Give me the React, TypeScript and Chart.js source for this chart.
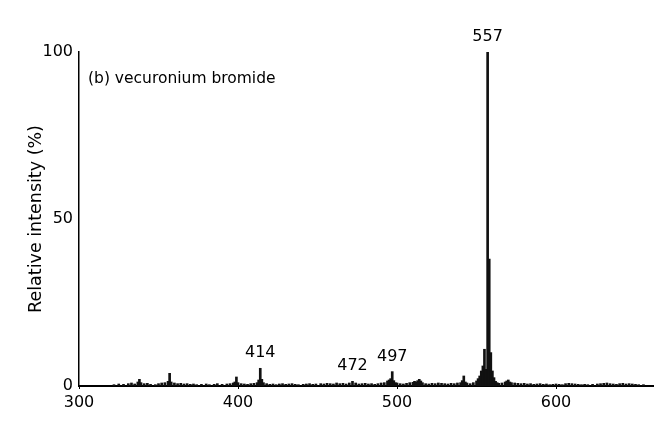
import { useEffect, useRef } from "react";
import { Chart, registerables } from "chart.js";

Chart.register(...registerables);

// m/z values of the spectrum lines
const mzValues = [
  322, 325, 328, 331, 333, 335, 337, 338, 339, 341, 343, 345, 348, 350, 352, 354, 356, 357, 358, 360,
  362, 364, 366, 368, 370, 372, 374, 377, 380, 382, 385, 387, 390, 393, 395, 397, 398, 399, 400, 402,
  404, 406, 408, 410, 412, 413, 414, 415, 416, 418, 420, 422, 424, 426, 428, 430, 432, 434, 436, 438,
  441, 443, 445, 447, 449, 452, 454, 456, 458, 460, 462, 464, 466, 468, 470, 472, 474, 476, 478, 480,
  482, 484, 486, 488, 490, 492, 494, 495, 496, 497, 498, 499, 500, 502, 504, 506, 508, 510, 511, 512,
  513, 514, 515, 516, 518, 520, 522, 524, 526, 528, 530, 532, 534, 536, 538, 540, 541, 542, 543, 544,
  546, 548, 550, 551, 552, 553, 554, 555, 556, 557, 558, 559, 560, 561, 562, 563, 564, 566, 568, 569,
  570, 571, 572, 574, 576, 578, 580, 582, 584, 586, 588, 590, 592, 594, 596, 598, 600, 602, 604, 606,
  608, 610, 612, 614, 616, 618, 620, 623, 626, 628, 630, 632, 634, 636, 638, 640, 642, 644, 646, 648,
  650, 652, 655,
];

// relative intensities (%) matching mzValues
const intensities = [
  0.4, 0.6, 0.5, 0.7, 0.9, 0.6, 1.2, 2.0, 1.0, 0.7, 0.8, 0.5, 0.4, 0.7, 0.9, 1.0, 1.4, 3.8, 1.2, 0.9,
  0.7, 0.8, 0.6, 0.7, 0.5, 0.6, 0.4, 0.5, 0.6, 0.4, 0.5, 0.7, 0.5, 0.6, 0.7, 0.9, 1.2, 2.7, 1.0, 0.7,
  0.6, 0.5, 0.7, 0.8, 1.0, 1.8, 5.3, 2.0, 1.0, 0.7, 0.5, 0.6, 0.4, 0.6, 0.7, 0.5, 0.6, 0.7, 0.5, 0.4,
  0.5, 0.6, 0.7, 0.5, 0.6, 0.7, 0.6, 0.8, 0.7, 0.6, 0.9, 0.7, 0.8, 0.6, 0.9, 1.4, 0.9, 0.6, 0.7, 0.8,
  0.6, 0.7, 0.5, 0.7, 0.9, 1.0, 1.5, 1.8, 2.2, 4.3, 1.6, 1.0, 0.9, 0.7, 0.6, 0.8, 1.0, 1.1, 1.4, 1.2,
  1.6, 2.0, 1.5, 1.0, 0.7, 0.6, 0.8, 0.7, 0.9, 0.8, 0.7, 0.6, 0.8, 0.7, 0.9, 1.0, 1.6, 3.0, 1.2, 0.9,
  0.7, 1.0, 1.5, 2.2, 3.0, 4.5, 6.0, 11.0, 5.0, 100, 38.0, 10.0, 4.5, 2.5, 1.4, 1.0, 0.8, 0.9, 1.2, 1.5,
  1.8, 1.2, 1.0, 0.9, 0.8, 0.7, 0.8, 0.6, 0.7, 0.5, 0.6, 0.7, 0.5, 0.6, 0.4, 0.5, 0.6, 0.5, 0.4, 0.7,
  0.8, 0.7, 0.6, 0.5, 0.4, 0.5, 0.4, 0.5, 0.6, 0.7, 0.8, 0.9, 0.7, 0.6, 0.5, 0.7, 0.8, 0.6, 0.7, 0.6,
  0.5, 0.4, 0.4,
];

const xTickValues = [300, 400, 500, 600];
const yTickValues = [0, 50, 100];
const peakLabelMz = [414, 472, 497, 557];
const peakLabelText = ["414", "472", "497", "557"];
const chartTitle = "(b) vecuronium bromide";
const yAxisTitle = "Relative intensity (%)";

const FONT = "'DejaVu Sans', 'Liberation Sans', sans-serif";

const annotatePlugin = {
  id: "annotate",
  afterDatasetsDraw(chart: any) {
    const { ctx, chartArea, scales } = chart;
    const x = scales.x;
    const y = scales.y;
    ctx.save();
    ctx.fillStyle = "#000";
    ctx.font = `16px ${FONT}`;
    ctx.textAlign = "center";
    ctx.textBaseline = "middle";
    peakLabelMz.forEach((mz, i) => {
      const idx = mzValues.indexOf(mz);
      const v = idx >= 0 ? intensities[idx] : 0;
      ctx.fillText(peakLabelText[i], x.getPixelForValue(mz), y.getPixelForValue(v) - 15);
    });
    ctx.font = `15.5px ${FONT}`;
    ctx.textAlign = "left";
    ctx.fillText(chartTitle, chartArea.left + 9, chartArea.top + 27);
    ctx.restore();
  },
};

export default function App() {
  const canvasRef = useRef<HTMLCanvasElement | null>(null);

  useEffect(() => {
    if (!canvasRef.current) return;
    const chart = new Chart(canvasRef.current, {
      type: "bar",
      data: {
        datasets: [
          {
            data: mzValues.map((m, i) => ({ x: m, y: intensities[i] })),
            backgroundColor: "#111",
            borderWidth: 0,
            barThickness: 2,
            grouped: false,
          } as any,
        ],
      },
      options: {
        animation: false,
        responsive: false,
        maintainAspectRatio: false,
        layout: { padding: { top: 52, right: 17, left: 0, bottom: 0 } },
        plugins: {
          legend: { display: false },
          tooltip: { enabled: false },
        },
        scales: {
          x: {
            type: "linear",
            min: 300,
            max: 661,
            offset: false,
            grid: {
              display: true,
              offset: false,
              drawOnChartArea: false,
              drawTicks: true,
              tickLength: 3,
              color: "#000",
              lineWidth: 1,
            },
            border: { display: true, color: "#000", width: 2 },
            ticks: {
              color: "#000",
              font: { family: FONT, size: 16 },
              padding: 4,
              maxRotation: 0,
              autoSkip: false,
            },
            afterBuildTicks: (s: any) => {
              s.ticks = xTickValues.map((v) => ({ value: v }));
            },
            afterFit: (s: any) => {
              s.height = 46;
            },
          },
          y: {
            type: "linear",
            min: 0,
            max: 100,
            grid: { display: false, drawTicks: false },
            border: { display: true, color: "#000", width: 1.5 },
            ticks: {
              color: "#000",
              font: { family: FONT, size: 16 },
              padding: 6,
            },
            afterBuildTicks: (s: any) => {
              s.ticks = yTickValues.map((v) => ({ value: v }));
            },
            title: {
              display: true,
              text: yAxisTitle,
              color: "#000",
              font: { family: FONT, size: 17.5 },
              padding: { top: 26, bottom: 0 },
            },
            afterFit: (s: any) => {
              s.width = 79;
            },
          },
        },
      } as any,
      plugins: [annotatePlugin],
    });
    return () => chart.destroy();
  }, []);

  return (
    <div style={{ position: "absolute", left: 0, top: 0, width: 670, height: 432, background: "#fff" }}>
      <canvas ref={canvasRef} width={670} height={432} style={{ width: 670, height: 432, display: "block" }} />
    </div>
  );
}
